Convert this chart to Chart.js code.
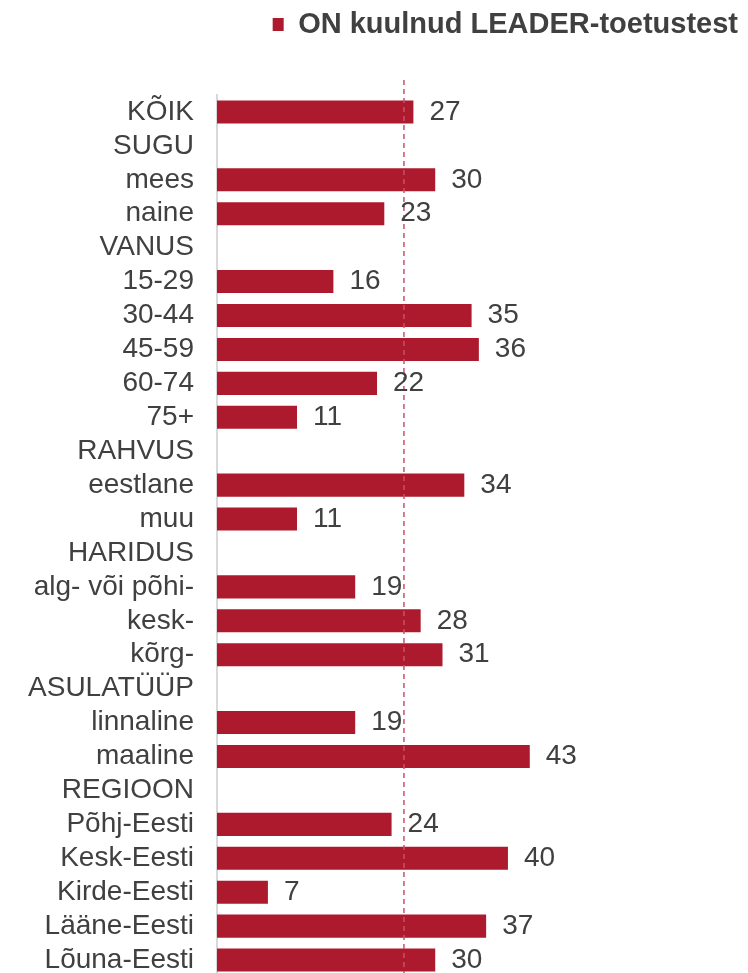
<!DOCTYPE html>
<html>
<head>
<meta charset="utf-8">
<script src="https://cdn.jsdelivr.net/npm/chart.js@4.4.1/dist/chart.umd.min.js"></script>
<style>
  html, body { margin: 0; padding: 0; background: #fff; overflow: hidden; }
  #wrap { width: 748px; height: 980px; }
</style>
</head>
<body>
<div id="wrap"><canvas id="canvas"></canvas></div>
<script>
// categories (group headers have no value)
var groups = ['KÕIK', 'SUGU', 'mees', 'naine', 'VANUS', '15-29', '30-44', '45-59', '60-74', '75+',
  'RAHVUS', 'eestlane', 'muu', 'HARIDUS', 'alg- või põhi-', 'kesk-', 'kõrg-',
  'ASULATÜÜP', 'linnaline', 'maaline', 'REGIOON', 'Põhj-Eesti', 'Kesk-Eesti',
  'Kirde-Eesti', 'Lääne-Eesti', 'Lõuna-Eesti'];
// % who HAVE heard of LEADER support
var heard = [27, null, 30, 23, null, 16, 35, 36, 22, 11, null, 34, 11, null, 19, 28, 31,
  null, 19, 43, null, 24, 40, 7, 37, 30];
var refLine = 25.7;

var red = '#ae1a2d';
var textCol = '#404040';
var font = "'Liberation Sans', Arial, sans-serif";

// extra room between legend and bars
var legendGap = {
  id: 'legendGap',
  beforeInit: function(chart) {
    var fit = chart.legend.fit;
    chart.legend.fit = function() {
      fit.bind(chart.legend)();
      this.height += 46;
    };
  }
};

var refLinePlugin = {
  id: 'refLine',
  afterDatasetsDraw: function(chart) {
    var ctx = chart.ctx;
    var x = chart.scales.x.getPixelForValue(refLine);
    ctx.save();
    ctx.strokeStyle = '#c8506a';
    ctx.lineWidth = 1.5;
    ctx.setLineDash([5, 4]);
    ctx.beginPath();
    ctx.moveTo(x, chart.chartArea.top - 15);
    ctx.lineTo(x, chart.chartArea.bottom);
    ctx.stroke();
    ctx.restore();
  }
};

var valueLabels = {
  id: 'valueLabels',
  afterDatasetsDraw: function(chart) {
    var ctx = chart.ctx;
    var meta = chart.getDatasetMeta(0);
    ctx.save();
    ctx.fillStyle = textCol;
    ctx.font = '28px ' + font;
    ctx.textAlign = 'left';
    ctx.textBaseline = 'middle';
    meta.data.forEach(function(bar, i) {
      var v = heard[i];
      if (v === null) return;
      ctx.fillText(String(v), bar.x + 16, bar.y);
    });
    ctx.restore();
  }
};

var ctx = document.getElementById('canvas').getContext('2d');
var myChart = new Chart(ctx, {
  type: 'bar',
  data: {
    labels: groups,
    datasets: [{
      label: 'ON kuulnud LEADER-toetustest',
      data: heard,
      backgroundColor: red,
      borderWidth: 0,
      barPercentage: 0.68,
      categoryPercentage: 1
    }]
  },
  options: {
    indexAxis: 'y',
    responsive: true,
    maintainAspectRatio: false,
    animation: false,
    layout: { padding: { top: 0, right: 0, bottom: 3, left: 0 } },
    plugins: {
      legend: {
        position: 'top',
        align: 'end',
        labels: {
          boxWidth: 11,
          boxHeight: 13,
          color: textCol,
          padding: 10,
          font: { family: font, size: 29, weight: 'bold' }
        }
      },
      tooltip: { enabled: false }
    },
    scales: {
      x: {
        display: false,
        min: 0,
        max: 73
      },
      y: {
        afterFit: function(scale) {
          scale.width = 217;
          scale.paddingTop = 0;
          scale.paddingBottom = 0;
        },
        grid: { display: false, drawTicks: false },
        border: { display: true, color: '#d9d9d9', width: 2 },
        ticks: {
          color: textCol,
          padding: 23,
          autoSkip: false,
          font: { family: font, size: 28 }
        }
      }
    }
  },
  plugins: [legendGap, refLinePlugin, valueLabels]
});
</script>
</body>
</html>
